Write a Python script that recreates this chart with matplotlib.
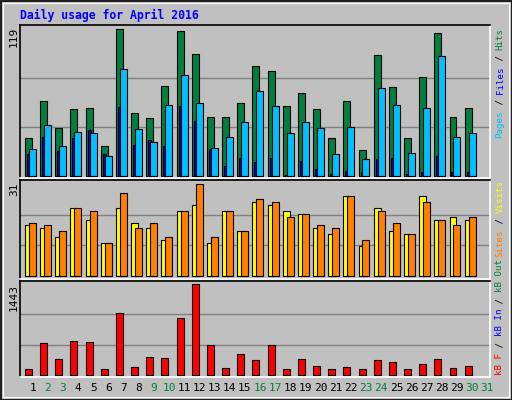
import matplotlib
matplotlib.use("Agg")
import matplotlib.pyplot as plt
from matplotlib.patches import Rectangle
import numpy as np

days = list(range(1, 31))
day_labels = [str(d) for d in range(1, 32)]
weekend_days = [2, 3, 9, 10, 16, 17, 23, 24, 30, 31]

hits = [31, 61, 39, 54, 55, 24, 119, 51, 47, 73, 118, 99, 48, 48, 59, 89, 85, 57, 67, 54, 31, 61, 21, 98, 72, 31, 80, 116, 48, 55]
pages = [22, 41, 24, 36, 35, 16, 87, 38, 28, 58, 82, 59, 23, 32, 44, 69, 57, 35, 44, 39, 18, 40, 14, 71, 58, 19, 55, 97, 32, 35]
files = [18, 32, 20, 31, 37, 18, 56, 25, 29, 24, 57, 45, 22, 8, 15, 11, 15, 1, 12, 6, 2, 4, 3, 14, 15, 2, 3, 16, 3, 3]
visits = [17, 16, 13, 23, 19, 11, 23, 18, 16, 12, 22, 24, 11, 22, 15, 25, 24, 22, 21, 16, 14, 27, 10, 23, 15, 14, 27, 19, 20, 19]
sites = [18, 17, 15, 23, 22, 11, 28, 16, 18, 13, 22, 31, 13, 22, 15, 26, 25, 20, 21, 17, 16, 27, 12, 22, 18, 14, 25, 19, 17, 20]
kbytes = [95, 507, 254, 539, 523, 95, 983, 127, 285, 270, 904, 1443, 476, 111, 333, 238, 476, 95, 254, 143, 95, 127, 95, 238, 206, 95, 174, 254, 111, 143]

W, H = 512, 400
fig = plt.figure(figsize=(W/100, H/100), dpi=100)
fig.patch.set_facecolor("#C0C0C0")
BG = "#C0C0C0"
mono = "DejaVu Sans Mono"

def ax_px(x0, y0, x1, y1):
    return fig.add_axes([x0/W, 1-y1/H, (x1-x0)/W, (y1-y0)/H])

fig.add_artist(Rectangle((0.5/W, 0.5/H), 1-1/W, 1-1/H, transform=fig.transFigure,
                         fill=False, ec="black", lw=1.2))
fig.add_artist(Rectangle((3/W, 3/H), 1-6/W, 1-6/H, transform=fig.transFigure,
                         fill=False, ec="white", lw=0.8))

def style(ax, ymax, ylim):
    ax.set_facecolor(BG)
    ax.set_xlim(0.17, 31.17)
    ax.set_ylim(*ylim)
    ax.set_xticks([]); ax.set_yticks([])
    for s in ["left", "top"]:
        ax.spines[s].set_color("black"); ax.spines[s].set_linewidth(1.2)
    for s in ["right", "bottom"]:
        ax.spines[s].set_color("white"); ax.spines[s].set_linewidth(1.2)
    for f in (1/3, 2/3):
        ax.axhline(ymax*f, color="#808080", lw=1, zorder=0)

d = np.array(days)
ek = dict(edgecolor="black", linewidth=0.8, align="edge")

ax1 = ax_px(20, 25, 490, 178)
style(ax1, 119, (-1.6, 122.5))
ax1.bar(d-0.5, hits, 0.46, color="#008040", **ek, zorder=2)
ax1.bar(d-0.37, files, 0.2, color="#0000FF", **ek, zorder=3)
ax1.bar(d-0.24, pages, 0.46, color="#00C0FF", **ek, zorder=4)

ax2 = ax_px(20, 180, 490, 279)
style(ax2, 31, (-1.0, 32.3))
ax2.bar(d-0.5, visits, 0.46, color="#FFFF00", **ek, zorder=2)
ax2.bar(d-0.24, sites, 0.46, color="#FF8000", **ek, zorder=3)

ax3 = ax_px(20, 281, 490, 377)
style(ax3, 1443, (-32, 1491))
ax3.bar(d-0.5, kbytes, 0.46, color="#FF0000", **ek, zorder=2)

fig.text(20/W, 1-15/H, "Daily usage for April 2016", color="#0000FF", family=mono,
         fontsize=8.3, fontweight="bold", va="center", ha="left")

for i, lab in enumerate(day_labels):
    day = i + 1
    xpx = 20 + (day - 0.17) * 470/31
    col = "#008040" if day in weekend_days else "black"
    fig.text(xpx/W, 1-388/H, lab, color=col, family=mono, fontsize=8, ha="center", va="center")

for txt, ytop in [("119", 27), ("31", 182), ("1443", 284)]:
    fig.text(14/W, 1-ytop/H, txt, family=mono, fontsize=8, rotation=90, ha="center", va="top")

RFS = 6.6
def right_label(parts, ybottom):
    cw = RFS * 100/72 * 0.602
    y = ybottom
    for txt, col in parts:
        fig.text(500/W, 1-y/H, txt, color=col, family=mono, fontsize=RFS, rotation=90,
                 ha="center", va="bottom")
        y -= cw*len(txt)

right_label([("Pages", "#00C0FF"), (" / ", "black"), ("Files", "#0000FF"),
             (" / ", "black"), ("Hits", "#008040")], 138)
right_label([("Sites", "#FF8000"), (" / ", "black"), ("Visits", "#FFFF00")], 257)
right_label([("kB F", "#FF0000"), (" / ", "black"), ("kB In", "#0000FF"),
             (" / ", "black"), ("kB Out", "#008040")], 375)

fig.savefig("out.png", dpi=100, facecolor=fig.get_facecolor())
